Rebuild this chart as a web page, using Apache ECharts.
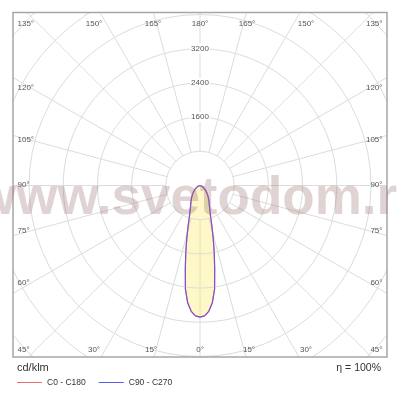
<!DOCTYPE html>
<html><head><meta charset="utf-8">
<script src="https://cdn.jsdelivr.net/npm/echarts@6/dist/echarts.min.js"></script>
<style>html,body{margin:0;padding:0;background:#fff}#c{width:400px;height:400px}</style>
</head><body><div id="c"></div>
<script>
// ---- data ----
const gammaAngles = [0, 2, 4, 6, 8, 10, 12, 14, 16, 18, 20, 25, 30, 35, 40, 45, 50, 55, 60, 65, 70, 75, 80, 85, 90, 100, 180];
const c0c180     = [3080, 3050, 2950, 2760, 2450, 1980, 1600, 1280, 1020, 830, 700, 520, 420, 340, 270, 220, 170, 130, 100, 75, 55, 40, 28, 18, 10, 0, 0];
const c90c270    = [3080, 3050, 2950, 2760, 2450, 1980, 1600, 1280, 1020, 830, 700, 520, 420, 340, 270, 220, 170, 130, 100, 75, 55, 40, 28, 18, 10, 0, 0];
const seriesNames = ['C0 - C180', 'C90 - C270'];
const radiusMin = 0, radiusMax = 6400, radiusStep = 800;
const radiusTickLabels = ['1600', '2400', '3200'];
const angleTicks = [0, 15, 30, 45, 60, 75, 90, 105, 120, 135, 150, 165, 180];
const unitLabel = 'cd/klm';
const efficiencyLabel = 'η = 100%';
const watermarkText = 'www.svetodom.ru';

// ---- layout ----
const CX = 200, CY = 185.5, PX_PER_STEP = 34.2;
const R_OUT = (radiusMax / radiusStep) * PX_PER_STEP;
const FRAME = {x: 13, y: 12.5, w: 374, h: 344.5};
const sideY = {45: 349.5, 60: 283, 75: 231, 90: 185, 105: 140, 120: 88, 135: 23.7};
const rowDX = {15: 49, 30: 106, 150: 106, 165: 47};

function mirror(vals) {
  const pts = [];
  for (let i = 0; i < gammaAngles.length; i++) pts.push([vals[i], gammaAngles[i]]);
  for (let i = gammaAngles.length - 2; i >= 0; i--) pts.push([vals[i], 360 - gammaAngles[i]]);
  return pts;
}

const graphics = [];
[[0, 0, 400, FRAME.y], [0, 0, FRAME.x, 400], [FRAME.x + FRAME.w, 0, 400, 400], [0, FRAME.y + FRAME.h, 400, 60]].forEach(r => {
  graphics.push({type: 'rect', z: 50, silent: true, shape: {x: r[0], y: r[1], width: r[2], height: r[3]}, style: {fill: '#fff'}});
});
graphics.push({type: 'rect', z: 55, silent: true, shape: {x: FRAME.x, y: FRAME.y, width: FRAME.w, height: FRAME.h}, style: {fill: 'none', stroke: '#a6a6a6', lineWidth: 1.5}});

const lblStyle = {font: '8px "Liberation Sans", Arial, sans-serif', fill: '#555'};
function addLabel(txt, x, y, align) {
  graphics.push({type: 'text', z: 60, silent: true, style: Object.assign({text: txt, x: x, y: y, textAlign: align, textVerticalAlign: 'middle'}, lblStyle)});
}
angleTicks.forEach(a => {
  const t = a + '°';
  if (a === 0) { addLabel(t, CX, 349.5, 'center'); return; }
  if (a === 180) { addLabel(t, CX, 23.7, 'center'); return; }
  if (a >= 45 && a <= 135) {
    addLabel(t, 17.5, sideY[a], 'left');
    addLabel(t, 382.5, sideY[a], 'right');
  } else {
    const y = a < 90 ? 349.5 : 23.7;
    addLabel(t, CX - rowDX[a], y, 'center');
    addLabel(t, CX + rowDX[a], y, 'center');
  }
});
graphics.push({type: 'text', z: 60, silent: true, style: {text: unitLabel, x: 17, y: 368, textAlign: 'left', textVerticalAlign: 'middle', font: '11px "Liberation Sans", Arial, sans-serif', fill: '#333'}});
graphics.push({type: 'text', z: 60, silent: true, style: {text: efficiencyLabel, x: 381, y: 368, textAlign: 'right', textVerticalAlign: 'middle', font: '10.5px "Liberation Sans", Arial, sans-serif', fill: '#333'}});
graphics.push({type: 'text', z: 100, silent: true, style: {text: watermarkText, x: -25, y: 199, textAlign: 'left', textVerticalAlign: 'middle', font: 'bold 53px "Liberation Sans", Arial, sans-serif', fill: 'rgba(150,110,110,0.3)'}});

const gridLine = {color: '#dcdcdc', width: 1};
const option = {
  animation: false,
  backgroundColor: '#fff',
  polar: [
    {center: [CX, CY], radius: [0, R_OUT]},
    {center: [CX, CY], radius: [PX_PER_STEP, R_OUT]}
  ],
  angleAxis: [
    {polarIndex: 0, type: 'value', min: 0, max: 360, startAngle: 270, clockwise: true, show: false},
    {polarIndex: 1, type: 'value', min: 0, max: 360, interval: 15, startAngle: 90,
     axisLine: {show: false}, axisTick: {show: false}, axisLabel: {show: false},
     splitLine: {show: true, lineStyle: gridLine}}
  ],
  radiusAxis: [
    {polarIndex: 0, type: 'value', min: radiusMin, max: radiusMax, show: false},
    {polarIndex: 1, type: 'value', min: radiusStep, max: radiusMax, interval: radiusStep, z: 3,
     axisLine: {show: false}, axisTick: {show: false},
     axisLabel: {show: true, margin: 0, align: 'center', verticalAlign: 'middle',
       formatter: v => radiusTickLabels.includes(String(v)) ? '{b|' + v + '}' : '',
       rich: {b: {fontSize: 8, color: '#555', backgroundColor: '#fff', padding: [1, 1], fontFamily: 'Liberation Sans'}}},
     splitLine: {show: true, lineStyle: gridLine}}
  ],
  legend: {
    data: seriesNames, left: 12, top: 373, icon: 'rect', itemWidth: 25, itemHeight: 1, itemGap: 13, z: 60,
    textStyle: {fontSize: 8.5, color: '#333', fontFamily: 'Liberation Sans'}
  },
  series: [
    {name: seriesNames[0], type: 'line', coordinateSystem: 'polar', polarIndex: 0, symbol: 'none', z: 2,
     data: mirror(c0c180), color: '#f06a6a',
     lineStyle: {width: 1.2, color: '#f06a6a'},
     areaStyle: {color: 'rgba(252,236,100,0.5)', origin: 'start'}},
    {name: seriesNames[1], type: 'line', coordinateSystem: 'polar', polarIndex: 0, symbol: 'none', z: 3,
     data: mirror(c90c270), color: '#5a5af5',
     lineStyle: {width: 1.2, color: '#5a4af5', opacity: 0.75}}
  ],
  graphic: {elements: graphics}
};
const chart = echarts.init(document.getElementById('c'), null, {renderer: 'canvas'});
chart.setOption(option);
</script>
</body></html>
